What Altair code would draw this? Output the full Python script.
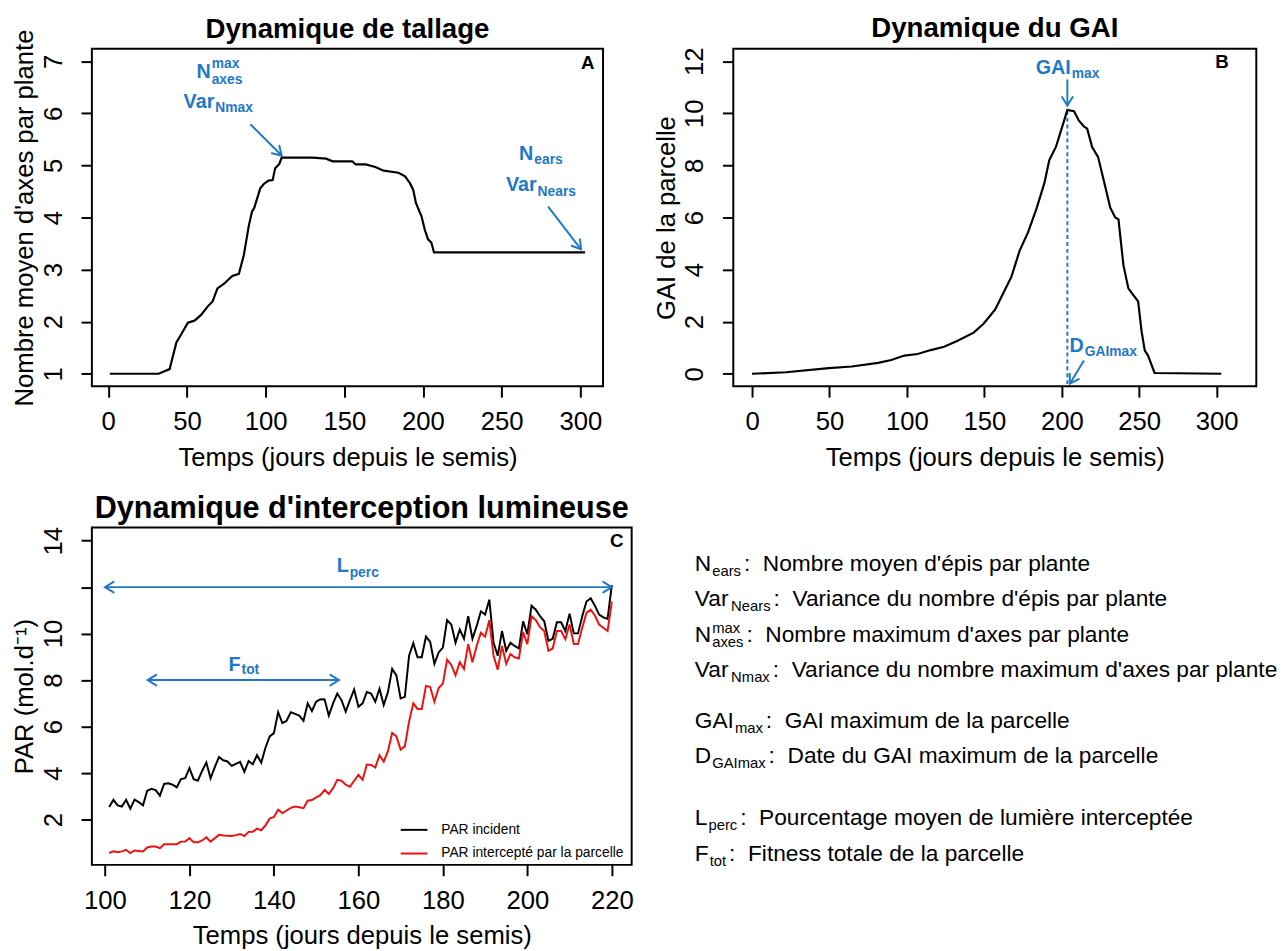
import math
import altair as alt
import pandas as pd

FONT = "Liberation Sans"
BLUE = "#1F78C8"

# ---------------- data ----------------
# Panel A : tallage
tall_day = [1, 32, 39, 43.3, 46.4, 50.6, 54.8, 59, 63.1, 66.3, 69.4, 73.6, 78.8, 83, 86.1, 89.3,
            91.4, 92.7, 96.6, 98.7, 101.8, 104.5, 106, 108.7, 110.2, 130, 138.4, 142.6, 155.1,
            157.2, 163.5, 169.7, 175, 184.4, 188.6, 191.7, 193.8, 195.5, 199, 201.1, 203.2,
            205.3, 207, 303]
tall_val = [1, 1, 1.09, 1.6, 1.76, 1.98, 2.02, 2.13, 2.29, 2.39, 2.64, 2.73, 2.88, 2.92, 3.27,
            3.84, 4.12, 4.18, 4.56, 4.64, 4.71, 4.72, 4.94, 5.03, 5.15, 5.15, 5.13, 5.08, 5.08,
            5.02, 5.02, 4.97, 4.9, 4.86, 4.79, 4.66, 4.53, 4.28, 4.03, 3.77, 3.58, 3.52, 3.33,
            3.33]

# Panel B : GAI
gai_day = [0, 21.9, 49.5, 64.4, 81.4, 89.9, 98.4, 106.9, 115.4, 124, 132.4, 143.1, 149.5, 156.9,
           162.2, 167.5, 172.8, 178.2, 183.5, 188.8, 191.9, 196.2, 200.5, 203.6, 207.9, 211.1,
           214.3, 216.4, 219.6, 223.4, 227, 231.3, 234.5, 236.6, 239.8, 243, 246.1, 249.3,
           251.5, 253.6, 255.7, 259.9, 303]
gai_val = [0, 0.06, 0.22, 0.28, 0.42, 0.53, 0.7, 0.76, 0.91, 1.04, 1.26, 1.58, 1.92, 2.46, 3.09,
           3.73, 4.73, 5.43, 6.31, 7.33, 8.2, 8.71, 9.53, 10.13, 10.08, 9.72, 9.5, 9.41, 8.71,
           8.33, 7.45, 6.38, 6.0, 5.93, 4.17, 3.28, 3.03, 2.78, 1.64, 0.89, 0.7, 0.03, 0]

# Panel C : PAR
par_day = list(range(101, 221))
par_incident = [2.54, 2.85, 2.61, 2.56, 2.85, 2.47, 2.86, 2.75, 2.61, 3.24,
                3.32, 3.27, 3.03, 3.53, 3.56, 3.50, 3.39, 3.74, 3.78, 4.21,
                3.74, 3.67, 4.09, 4.45, 3.78, 4.26, 4.69, 4.55, 4.50, 4.31,
                4.40, 4.48, 4.05, 4.52, 4.38, 4.77, 4.45, 5.09, 5.58, 5.72,
                6.62, 6.15, 6.25, 6.62, 6.55, 6.47, 6.25, 7.00, 6.67, 7.07,
                7.18, 7.17, 6.47, 7.00, 7.42, 7.14, 6.64, 7.14, 7.60, 6.85,
                7.00, 7.49, 7.42, 7.07, 7.63, 6.93, 7.49, 8.48, 8.20, 7.21,
                7.28, 9.05, 9.59, 8.98, 8.98, 9.87, 9.64, 8.70, 9.19, 9.40,
                10.58, 10.39, 9.61, 10.18, 9.78, 10.75, 9.78, 10.32, 10.96, 10.82,
                11.46, 9.61, 9.05, 10.11, 9.26, 9.61, 9.47, 9.36, 10.53, 9.97,
                11.20, 11.03, 10.75, 10.53, 9.69, 9.78, 10.49, 10.49, 10.11, 10.86,
                10.01, 10.01, 10.75, 11.38, 11.52, 11.20, 10.82, 10.70, 10.63, 12.09]
par_intercepte = [0.56, 0.63, 0.59, 0.63, 0.70, 0.56, 0.67, 0.65, 0.63, 0.80,
                  0.84, 0.84, 0.77, 0.94, 0.94, 0.94, 0.94, 1.05, 1.05, 1.20,
                  1.02, 1.02, 1.10, 1.24, 1.05, 1.20, 1.34, 1.31, 1.30, 1.29,
                  1.33, 1.38, 1.29, 1.47, 1.47, 1.61, 1.54, 1.75, 2.04, 2.11,
                  2.42, 2.28, 2.39, 2.50, 2.56, 2.53, 2.49, 2.81, 2.84, 2.95,
                  3.05, 3.27, 3.10, 3.35, 3.71, 3.67, 3.50, 3.41, 3.67, 3.92,
                  3.71, 4.37, 4.35, 4.24, 4.77, 4.49, 4.94, 5.72, 5.58, 5.01,
                  5.15, 6.22, 7.00, 6.76, 6.76, 7.75, 7.70, 7.07, 7.66, 7.85,
                  8.88, 8.65, 8.20, 8.77, 8.48, 9.55, 8.77, 9.47, 10.04, 9.87,
                  10.58, 9.05, 8.45, 9.47, 8.70, 9.12, 8.98, 8.93, 10.07, 9.55,
                  10.75, 10.58, 10.28, 10.11, 9.26, 9.36, 10.11, 10.11, 9.76, 10.39,
                  9.55, 9.55, 10.25, 10.89, 11.03, 10.78, 10.39, 10.25, 10.11, 11.38]
par_series = ["PAR incident", "PAR intercepté par la parcelle"]

# annotation texts (data coordinates of each panel)
A_base_text = ["N", "Var", "N", "Var"]
A_base_x = [65.1, 67.4, 270.1, 272.2]
A_base_y = [6.68, 6.10, 5.10, 4.50]
A_script_text = ["max", "axes", "Nmax", "ears", "Nears"]
A_script_x = [65.1, 65.1, 67.4, 270.1, 272.2]
A_script_y = [6.87, 6.56, 6.02, 5.02, 4.42]
A_arrow_x = [90.3, 279.5]
A_arrow_y = [5.79, 4.21]
A_arrow_x2 = [110.2, 300.4]
A_arrow_y2 = [5.19, 3.39]

B_base_text = ["GAI", "D"]
B_base_x = [205.8, 214.2]
B_base_y = [11.53, 0.82]
B_script_text = ["max", "GAImax"]
B_script_x = [205.8, 214.2]
B_script_y = [11.36, 0.67]
B_arrow_x = [203.6, 214.3]
B_arrow_y = [11.3, 0.51]
B_arrow_x2 = [203.6, 205.2]
B_arrow_y2 = [10.3, -0.38]
B_gaimax_day = 203.6
B_gaimax_val = 10.1

C_base_text = ["L", "F"]
C_base_x = [157.7, 132.1]
C_base_y = [12.66, 8.41]
C_script_text = ["perc", "tot"]
C_script_x = [157.7, 132.1]
C_script_y = [12.45, 8.28]
C_arrow_x = [100, 110.1]
C_arrow_y = [12, 8]
C_arrow_x2 = [220, 155.4]
C_arrow_y2 = [12, 8]

letters = ["A", "B", "C"]
letter_x = [309.0, 307.8, 222.8]
letter_y = [6.85, 11.74, 13.72]

# definitions panel
def_base = ["N", "Var", "N", "Var", "GAI", "D", "L", "F"]
def_sup = ["", "", "max", "", "", "", "", ""]
def_sub = ["ears", "Nears", "axes", "Nmax", "max", "GAImax", "perc", "tot"]
def_desc = ["Nombre moyen d'épis par plante",
            "Variance du nombre d'épis par plante",
            "Nombre maximum d'axes par plante",
            "Variance du nombre maximum d'axes par plante",
            "GAI maximum de la parcelle",
            "Date du GAI maximum de la parcelle",
            "Pourcentage moyen de lumière interceptée",
            "Fitness totale de la parcelle"]

# ---------------- layout ----------------
A = dict(w=518, h=342, xd=[-10.4, 314.4], yd=[0.76, 7.24], xt=[0, 50, 100, 150, 200, 250, 300],
         yt=[1, 2, 3, 4, 5, 6, 7], xtitle="Temps (jours depuis le semis)",
         ytitle="Nombre moyen d'axes par plante", title="Dynamique de tallage", tfs=28, tdy=19)
B = dict(w=530, h=342, xd=[-12.1, 325.6], yd=[-0.48, 12.48], xt=[0, 50, 100, 150, 200, 250, 300],
         yt=[0, 2, 4, 6, 8, 10, 12], xtitle="Temps (jours depuis le semis)",
         ytitle="GAI de la parcelle", title="Dynamique du GAI", tfs=28, tdy=0)
C = dict(w=547, h=342, xd=[96.9, 224.7], yd=[0.05, 14.57], xt=[100, 120, 140, 160, 180, 200, 220],
         yt=[2, 4, 6, 8, 10, 12, 14], xtitle="Temps (jours depuis le semis)",
         ytitle="PAR (mol.d\u207b\u00b9)", title="Dynamique d'interception lumineuse", tfs=31,
         tdy=3)

ARROW = "M-1,-0.62L0,0L-1,0.62"


def ex(p, f="x"):
    return alt.X(f"{f}:Q", scale=alt.Scale(domain=p["xd"], nice=False, zero=False),
                 axis=alt.Axis(values=p["xt"], title=p["xtitle"]))


def ey(p, f="y"):
    ax = dict(values=p["yt"], title=p["ytitle"])
    if p is C:
        ax["labelExpr"] = "datum.value == 12 ? '' : datum.label"
    return alt.Y(f"{f}:Q", scale=alt.Scale(domain=p["yd"], nice=False, zero=False),
                 axis=alt.Axis(**ax))


def heads(p, xs, ys, x2s, y2s, both):
    kx = p["w"] / (p["xd"][1] - p["xd"][0])
    ky = p["h"] / (p["yd"][1] - p["yd"][0])
    rows = []
    for x, y, x2, y2 in zip(xs, ys, x2s, y2s):
        a = math.degrees(math.atan2(-(y2 - y) * ky, (x2 - x) * kx)) % 360
        rows.append(dict(x=x2, y=y2, ang=a))
        if both:
            rows.append(dict(x=x, y=y, ang=(a + 180) % 360))
    return rows


def annot_layers(p, bt, bx, by, st, sx, sy, ax, ay, ax2, ay2, both, letter_i):
    arr = pd.DataFrame(dict(x=ax, y=ay, x2=ax2, y2=ay2))
    shafts = alt.Chart(arr).mark_rule(color=BLUE, strokeWidth=2).encode(
        x=ex(p), y=ey(p), x2="x2:Q", y2="y2:Q")
    hd = alt.Chart(pd.DataFrame(heads(p, ax, ay, ax2, ay2, both))).mark_point(
        shape=ARROW, size=300, filled=False, strokeWidth=2, color=BLUE, opacity=1,
        strokeCap="round", strokeJoin="miter").encode(
        x=ex(p), y=ey(p), angle=alt.Angle("ang:Q", scale=None))
    base = alt.Chart(pd.DataFrame(dict(x=bx, y=by, t=bt))).mark_text(
        align="right", baseline="alphabetic", font=FONT, fontSize=20, fontWeight="bold",
        color=BLUE).encode(x=ex(p), y=ey(p), text="t:N")
    scr = alt.Chart(pd.DataFrame(dict(x=sx, y=sy, t=st))).mark_text(
        align="left", baseline="alphabetic", font=FONT, fontSize=14, fontWeight="bold",
        color=BLUE, dx=1).encode(x=ex(p), y=ey(p), text="t:N")
    let = alt.Chart(pd.DataFrame(dict(x=[letter_x[letter_i]], y=[letter_y[letter_i]],
                                      t=[letters[letter_i]]))).mark_text(
        align="right", baseline="alphabetic", font=FONT, fontSize=19, fontWeight="bold",
        color="black").encode(x=ex(p), y=ey(p), text="t:N")
    return [shafts, hd, base, scr, let]


def ttl(p):
    return alt.TitleParams(p["title"], fontSize=p["tfs"], fontWeight="bold", font=FONT,
                           anchor="middle", offset=4, color="black", frame="group",
                           dy=p["tdy"])


# Panel A
dfA = pd.DataFrame(dict(x=tall_day, y=tall_val))
lineA = alt.Chart(dfA).mark_line(color="black", strokeWidth=2.2).encode(x=ex(A), y=ey(A))
chartA = alt.layer(lineA, *annot_layers(A, A_base_text, A_base_x, A_base_y, A_script_text,
                                        A_script_x, A_script_y, A_arrow_x, A_arrow_y,
                                        A_arrow_x2, A_arrow_y2, False, 0)
                   ).properties(width=A["w"], height=A["h"], title=ttl(A))

# Panel B
dfB = pd.DataFrame(dict(x=gai_day, y=gai_val))
lineB = alt.Chart(dfB).mark_line(color="black", strokeWidth=2.2).encode(x=ex(B), y=ey(B))
dash = alt.Chart(pd.DataFrame(dict(x=[B_gaimax_day], y=[B_gaimax_val], y2=[B["yd"][0]]))).mark_rule(
    color=BLUE, strokeWidth=2, strokeDash=[4, 3]).encode(x=ex(B), y=ey(B), y2="y2:Q")
chartB = alt.layer(dash, lineB, *annot_layers(B, B_base_text, B_base_x, B_base_y, B_script_text,
                                              B_script_x, B_script_y, B_arrow_x, B_arrow_y,
                                              B_arrow_x2, B_arrow_y2, False, 1)
                   ).properties(width=B["w"], height=B["h"], title=ttl(B))

# Panel C
dfC = pd.concat([
    pd.DataFrame(dict(x=par_day, y=par_incident, s=par_series[0], o=0)),
    pd.DataFrame(dict(x=par_day, y=par_intercepte, s=par_series[1], o=1)),
])
lineC = alt.Chart(dfC).mark_line(strokeWidth=2).encode(
    x=ex(C), y=ey(C),
    color=alt.Color("s:N", scale=alt.Scale(domain=par_series, range=["black", "#EE1111"]),
                    legend=alt.Legend(title=None, orient="none", legendX=312, legendY=292,
                                      symbolType="stroke", symbolSize=729,
                                      symbolStrokeWidth=2, labelFont=FONT, labelFontSize=14,
                                      labelColor="black", rowPadding=2, padding=0,
                                      labelOffset=13, labelLimit=400)),
    detail="o:N")
chartC = alt.layer(lineC, *annot_layers(C, C_base_text, C_base_x, C_base_y, C_script_text,
                                        C_script_x, C_script_y, C_arrow_x, C_arrow_y,
                                        C_arrow_x2, C_arrow_y2, True, 2)
                   ).properties(width=C["w"], height=C["h"], title=ttl(C))

# Definitions panel (local pixel units)
W_REG = {'N': 722, 'V': 667, 'a': 556, 'r': 333, 'G': 778, 'A': 667, 'I': 278, 'D': 722,
         'L': 556, 'F': 611, 'e': 556, 's': 500, 'm': 833, 'x': 500, 'p': 556, 'c': 500,
         't': 278, 'o': 556}


def tw(s, fs):
    return sum(W_REG.get(c, 556) for c in s) * fs / 1000.0


T_W, T_H = 530, 342
FS_T, FS_S = 23, 15
x0 = -39
line_base = [44, 80, 116, 152, 203, 239, 302, 338]
rows = []
for b, sp, sb, d, yb in zip(def_base, def_sup, def_sub, def_desc, line_base):
    rows.append(dict(x=x0, y=yb, t=b, fs=FS_T))
    xs = x0 + tw(b, FS_T) + 1
    end = xs + tw(sb, FS_S)
    rows.append(dict(x=xs, y=yb + 5, t=sb, fs=FS_S))
    if sp:
        rows.append(dict(x=xs, y=yb - 9, t=sp, fs=FS_S))
        end = max(end, xs + tw(sp, FS_S))
    rows.append(dict(x=end + 3, y=yb, t=":\u00a0\u00a0" + d, fs=FS_T))
dfT = pd.DataFrame(rows)
chartT = alt.Chart(dfT).mark_text(align="left", baseline="alphabetic", font=FONT,
                                   color="black").encode(
    x=alt.X("x:Q", scale=alt.Scale(domain=[0, T_W], nice=False, zero=False), axis=None),
    y=alt.Y("y:Q", scale=alt.Scale(domain=[T_H, 0], nice=False, zero=False), axis=None),
    text="t:N",
    size=alt.Size("fs:Q", scale=None),
).properties(width=T_W, height=T_H, view=alt.ViewBackground(stroke="transparent"))

chart = alt.concat(chartA, chartB, chartC, chartT, columns=2,
                   spacing=alt.RowColnumber(row=143, column=103), bounds="flush").resolve_legend(
    color="independent"
).properties(
    padding={"left": 2, "top": 0, "right": 0, "bottom": 0}
).configure_view(stroke="black", strokeWidth=2).configure_axis(
    domain=False, grid=False, ticks=True, tickColor="black", tickWidth=2, tickSize=11,
    labelFont=FONT, labelFontSize=26, labelColor="black", labelPadding=12, labelFlush=False,
    labelOverlap=False, titleFont=FONT, titleFontSize=26, titleFontWeight="normal",
    titleColor="black", titlePadding=10
).configure_axisY(labelAngle=270, labelAlign="center", labelBaseline="bottom",
                  labelPadding=15, titlePadding=3)

chart.save("out.html", embed_options={"renderer": "svg", "actions": False})
